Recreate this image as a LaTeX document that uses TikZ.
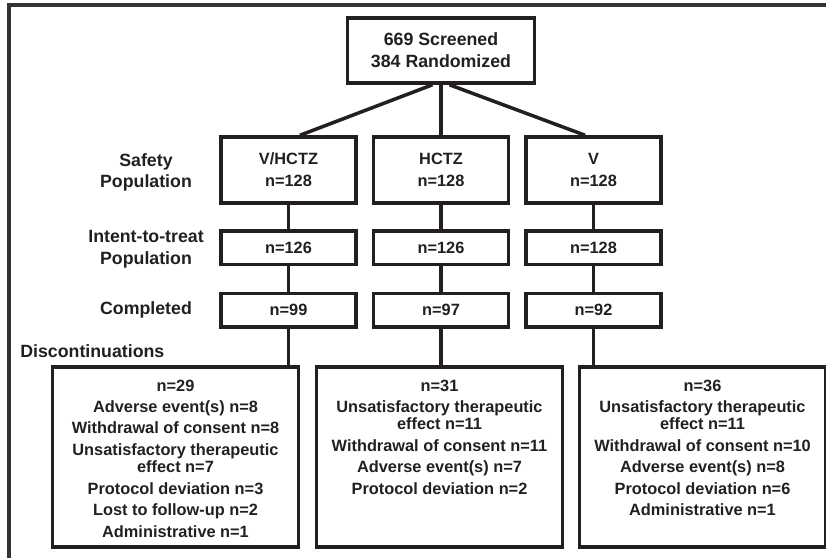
\documentclass[tikz,border=0pt]{standalone}
\usepackage{fontspec}
\setmainfont{Liberation Sans}
\usepackage{tikz}
\usetikzlibrary{positioning, calc}
\definecolor{inkblack}{HTML}{231F20}
\definecolor{framegray}{HTML}{333333}

\begin{document}
\begin{tikzpicture}[
        font=\bfseries,
        armbox/.style={draw=inkblack, line width=2pt, minimum width=2.70cm, minimum height=1.32cm,
                       align=center, inner sep=0pt, text=inkblack,
                       font=\bfseries\fontsize{9.3}{12.5}\selectfont},
        countbox/.style={armbox, minimum height=0.67cm},
        topbox/.style={armbox, minimum width=3.74cm, minimum height=1.30cm,
                       font=\bfseries\fontsize{10.1}{12.5}\selectfont},
        discbox/.style={draw=inkblack, line width=2pt, minimum width=4.92cm, minimum height=3.60cm, inner sep=0pt},
        disclist/.style={align=center, inner sep=0pt, anchor=north, text=inkblack,
                         font=\bfseries\fontsize{9.3}{9.9}\selectfont},
        rowlabel/.style={align=center, inner sep=0pt, text=inkblack,
                         font=\bfseries\fontsize{10.1}{12.3}\selectfont},
        link/.style={draw=inkblack, line width=2pt}
    ]
      \useasboundingbox (0,0) rectangle (16.52,-11.16);

      % --- Outer frame (open to the right and below) ---
      \draw[draw=framegray, line width=1.8pt] (0.18,-11.16) -- (0.18,-0.10) -- (16.52,-0.10);

      % --- Randomization ---
      \node[topbox] (screen) at (8.82,-1.01) {669 Screened\\384 Randomized};

      % --- Safety population ---
      \node[rowlabel] (lblSafety) at (2.92,-3.45) {Safety\\Population};
      \node[armbox] (armA) at (5.77,-3.40) {V/HCTZ\\n=128};
      \node[armbox] (armB) at (8.82,-3.40) {HCTZ\\n=128};
      \node[armbox] (armC) at (11.87,-3.40) {V\\n=128};

      % --- Intent-to-treat ---
      \node[rowlabel] (lblItt) at (2.92,-4.99) {Intent-to-treat\\Population};
      \node[countbox] (ittA) at (5.77,-4.95) {n=126};
      \node[countbox] (ittB) at (8.82,-4.95) {n=126};
      \node[countbox] (ittC) at (11.87,-4.95) {n=128};

      % --- Completed ---
      \node[rowlabel] (lblComp) at (2.92,-6.20) {Completed};
      \node[countbox] (compA) at (5.77,-6.20) {n=99};
      \node[countbox] (compB) at (8.82,-6.20) {n=97};
      \node[countbox] (compC) at (11.87,-6.20) {n=92};

      % --- Discontinuations ---
      \node[rowlabel, anchor=west] (lblDisc) at (0.40,-7.02) {Discontinuations};
      \node[discbox] (discA) at (3.51,-9.14) {};
      \node[discbox] (discB) at (8.79,-9.14) {};
      \node[discbox] (discC) at (14.05,-9.14) {};

      \node[disclist] (listA) at ([yshift=-0.28cm]discA.north) {n=29\\[2.3pt]
        Adverse event(s) n=8\\[2.3pt]
        Withdrawal of consent n=8\\[2.3pt]
        Unsatisfactory therapeutic\\effect n=7\\[2.3pt]
        Protocol deviation n=3\\[2.3pt]
        Lost to follow-up n=2\\[2.3pt]
        Administrative n=1};
      \node[disclist] (listB) at ([yshift=-0.28cm]discB.north) {n=31\\[2.3pt]
        Unsatisfactory therapeutic\\effect n=11\\[2.3pt]
        Withdrawal of consent n=11\\[2.3pt]
        Adverse event(s) n=7\\[2.3pt]
        Protocol deviation n=2};
      \node[disclist] (listC) at ([yshift=-0.28cm]discC.north) {n=36\\[2.3pt]
        Unsatisfactory therapeutic\\effect n=11\\[2.3pt]
        Withdrawal of consent n=10\\[2.3pt]
        Adverse event(s) n=8\\[2.3pt]
        Protocol deviation n=6\\[2.3pt]
        Administrative n=1};

      % Fan out to the three arms
      \draw[link] ([xshift=-0.17cm]screen.south) -- ([xshift=0.23cm]armA.north);
      \draw[link] (screen.south) -- (armB.north);
      \draw[link] ([xshift=0.17cm]screen.south) -- ([xshift=-0.17cm]armC.north);

      % Vertical flow per arm
      \foreach \arm in {A,B,C}{
        \draw[link] (arm\arm.south) -- (itt\arm.north);
        \draw[link] (itt\arm.south) -- (comp\arm.north);
        \draw[link] (comp\arm.south) -- (comp\arm.south |- disc\arm.north);
      }
    \end{tikzpicture}
\end{document}
